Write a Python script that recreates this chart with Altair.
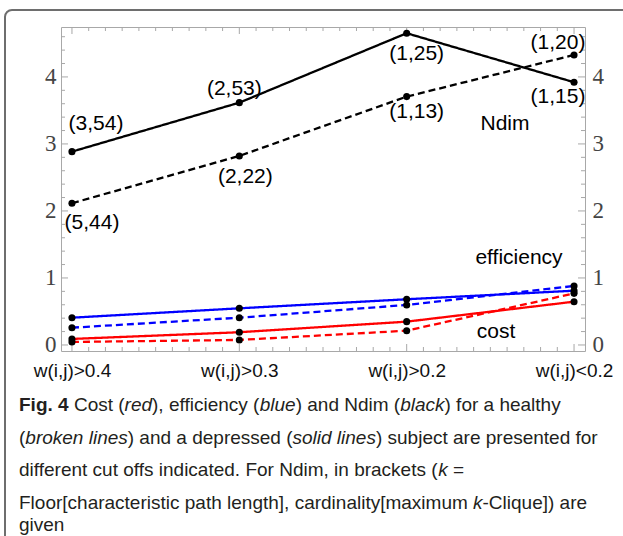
import json
import altair as alt
import pandas as pd

# ---------------- data ----------------
cutoffs = ["w(i,j)>0.4", "w(i,j)>0.3", "w(i,j)>0.2", "w(i,j)<0.2"]
ndim_depressed = [2.885, 3.616, 4.652, 3.921]
ndim_healthy = [2.115, 2.821, 3.706, 4.328]
eff_depressed = [0.407, 0.547, 0.682, 0.810]
eff_healthy = [0.258, 0.407, 0.597, 0.880]
cost_depressed = [0.090, 0.190, 0.348, 0.646]
cost_healthy = [0.045, 0.075, 0.213, 0.770]
ndim_labels_depressed = ["(3,54)", "(2,53)", "(1,25)", "(1,15)"]
ndim_labels_healthy = ["(5,44)", "(2,22)", "(1,13)", "(1,20)"]
y_tick_values = [0, 1, 2, 3, 4]

caption_lines = [
    [("Fig. 4", "bold"), (" Cost (", "normal"), ("red", "italic"), ("), efficiency (", "normal"),
     ("blue", "italic"), (") and Ndim (", "normal"), ("black", "italic"), (") for a healthy", "normal")],
    [("(", "normal"), ("broken lines", "italic"), (") and a depressed (", "normal"),
     ("solid lines", "italic"), (") subject are presented for", "normal")],
    [("different cut offs indicated. For Ndim, in brackets (", "normal"), ("k", "italic"), (" =", "normal")],
    [("Floor[characteristic path length], cardinality[maximum ", "normal"), ("k", "italic"),
     ("-Clique]) are", "normal")],
    [("given", "normal")],
]

# ---------------- layout ----------------
W, H = 524, 324
PAD = {"left": 61, "top": 27, "right": 38, "bottom": 185}
XDOM = [-0.0655, 3.0655]
YDOM = [-0.09, 4.745]
FRAME = "#a8a8a8"

rows = []
series = [
    ("Ndim", "depressed", ndim_depressed, ndim_labels_depressed),
    ("Ndim", "healthy", ndim_healthy, ndim_labels_healthy),
    ("efficiency", "depressed", eff_depressed, [""] * 4),
    ("efficiency", "healthy", eff_healthy, [""] * 4),
    ("cost", "depressed", cost_depressed, [""] * 4),
    ("cost", "healthy", cost_healthy, [""] * 4),
]
for metric, subject, vals, labs in series:
    for i, (v, lab) in enumerate(zip(vals, labs)):
        rows.append({"idx": i, "cutoff": cutoffs[i], "metric": metric, "subject": subject,
                     "series": metric + "_" + subject, "value": v, "label": lab})
df = pd.DataFrame(rows)

xscale = alt.Scale(domain=XDOM, nice=False, zero=False)
yscale = alt.Scale(domain=YDOM, nice=False, zero=False)

label_expr = json.dumps(cutoffs) + "[datum.value]"

yaxis_common = dict(values=y_tick_values, title=None, grid=False, domain=False, ticks=False,
                    labelFont="Liberation Serif", labelFontSize=23, labelColor="#444444")

lines = alt.Chart(df).mark_line(strokeWidth=2.3).encode(
    x=alt.X("idx:Q", scale=xscale,
            axis=alt.Axis(values=[0, 1, 2, 3], labelExpr=label_expr, title=None, grid=False,
                          domain=False, ticks=False, labelFont="Liberation Sans", labelFontSize=19,
                          labelColor="#111111", labelPadding=10)),
    y=alt.Y("value:Q", scale=yscale, axis=alt.Axis(orient="left", labelPadding=5, **yaxis_common)),
    color=alt.Color("metric:N", scale=alt.Scale(domain=["cost", "efficiency", "Ndim"],
                                                range=["#ff0000", "#0000ff", "#000000"]), legend=None),
    strokeDash=alt.StrokeDash("subject:N", scale=alt.Scale(domain=["depressed", "healthy"],
                                                           range=[[1, 0], [7, 4]]), legend=None),
    detail="series:N",
)

points = alt.Chart(df).mark_circle(size=50, color="black", opacity=1).encode(
    x=alt.X("idx:Q", scale=xscale, axis=None),
    y=alt.Y("value:Q", scale=yscale, axis=alt.Axis(orient="right", labelPadding=7, **yaxis_common)),
)

# point labels
label_offsets = {
    "(3,54)": (24, -28), "(2,53)": (-5, -14), "(1,25)": (10, 21), "(1,15)": (-16, 15),
    "(5,44)": (20, 20), "(2,22)": (6, 21), "(1,13)": (10, 15), "(1,20)": (-16, -12),
}
label_layers = []
for lab in ndim_labels_depressed + ndim_labels_healthy:
    dx, dy = label_offsets[lab]
    label_layers.append(
        alt.Chart(df).transform_filter(alt.datum.label == lab).mark_text(
            dx=dx, dy=dy, font="Liberation Sans", fontSize=21, color="black",
            align="center", baseline="middle").encode(
            x=alt.X("idx:Q", scale=xscale, axis=None),
            y=alt.Y("value:Q", scale=yscale, axis=None),
            text="label:N")
    )

# series names
name_layers = []
for name, px, py in [("Ndim", 444, 103), ("efficiency", 458, 237), ("cost", 435, 311)]:
    name_layers.append(
        alt.Chart(pd.DataFrame({"t": [name]})).mark_text(
            font="Liberation Sans", fontSize=21, color="black", align="center",
            baseline="alphabetic").encode(text="t:N", x=alt.value(px), y=alt.value(py))
    )

# frame ticks (inward)
y_minor = [round(i * 0.2, 1) for i in range(24)]
x_minor = [round(i * 0.1, 1) for i in range(31)]
yt = pd.DataFrame({"v": y_minor, "major": [float(v).is_integer() for v in y_minor]})
xt = pd.DataFrame({"v": x_minor, "major": [float(v).is_integer() for v in x_minor]})
tick_layers = []
for major, ln in [(True, 7), (False, 4)]:
    ysub = yt[yt.major == major]
    xsub = xt[xt.major == major]
    tick_layers.append(alt.Chart(ysub).mark_rule(color=FRAME, strokeWidth=1).encode(
        y=alt.Y("v:Q", scale=yscale, axis=None), x=alt.value(0), x2=alt.value(ln)))
    tick_layers.append(alt.Chart(ysub).mark_rule(color=FRAME, strokeWidth=1).encode(
        y=alt.Y("v:Q", scale=yscale, axis=None), x=alt.value(W), x2=alt.value(W - ln)))
    tick_layers.append(alt.Chart(xsub).mark_rule(color=FRAME, strokeWidth=1).encode(
        x=alt.X("v:Q", scale=xscale, axis=None), y=alt.value(H), y2=alt.value(H - ln)))
    tick_layers.append(alt.Chart(xsub).mark_rule(color=FRAME, strokeWidth=1).encode(
        x=alt.X("v:Q", scale=xscale, axis=None), y=alt.value(0), y2=alt.value(ln)))

# outer rounded border
border = alt.Chart(pd.DataFrame({"a": [0]})).mark_rect(
    fillOpacity=0, stroke="#6e6e6e", strokeWidth=2, cornerRadius=7).encode(
    x=alt.value(5 - PAD["left"]), y=alt.value(10 - PAD["top"]),
    x2=alt.value(700), y2=alt.value(700))

# caption with mixed styles (Arial/Helvetica advance widths)
REG = {' ': 278, '(': 333, ')': 333, ',': 278, '-': 333, '.': 278, '=': 584, '[': 278, ']': 278,
       '>': 584, '<': 584}
for c in "0123456789":
    REG[c] = 556
lw = dict(a=556, b=556, c=500, d=556, e=556, f=278, g=556, h=556, i=222, j=222, k=500, l=222, m=833,
          n=556, o=556, p=556, q=556, r=333, s=500, t=278, u=556, v=500, w=722, x=500, y=500, z=500)
uw = dict(A=667, B=667, C=722, D=722, E=667, F=611, G=778, H=722, I=278, J=500, K=667, L=556, M=833,
          N=722, O=778, P=667, Q=778, R=722, S=667, T=611, U=722, V=667, W=944, X=667, Y=667, Z=611)
REG.update(lw)
REG.update(uw)
BOLD = dict(REG)
BOLD.update({'i': 278, 'g': 611, 'F': 611, '.': 278, ' ': 278})

CAP_FS = 19
CAP_X0 = 19 - PAD["left"]
CAP_BASELINES = [411, 443.5, 476, 508.5, 531]


def seg_width(text, style):
    table = BOLD if style == "bold" else REG
    return sum(table.get(ch, 556) for ch in text) * CAP_FS / 1000.0


cap_rows = []
for li, segs in enumerate(caption_lines):
    xpos = CAP_X0
    for text, style in segs:
        stripped = text.lstrip(" ")
        lead = seg_width(text[: len(text) - len(stripped)], style)
        cap_rows.append({"t": stripped, "x": xpos + lead, "y": CAP_BASELINES[li] - PAD["top"],
                         "style": style})
        xpos += seg_width(text, style)
cap = pd.DataFrame(cap_rows)

caption_layers = []
for style in ["normal", "italic", "bold"]:
    sub = cap[cap["style"] == style]
    kw = dict(font="Liberation Sans", fontSize=CAP_FS, color="#231f20", align="left",
              baseline="alphabetic")
    if style == "italic":
        kw["fontStyle"] = "italic"
    if style == "bold":
        kw["fontWeight"] = "bold"
    caption_layers.append(alt.Chart(sub).mark_text(**kw).encode(
        text="t:N",
        x=alt.X("x:Q", scale=None, axis=None),
        y=alt.Y("y:Q", scale=None, axis=None)))

chart = alt.layer(
    lines, border, *tick_layers, points, *label_layers, *name_layers, *caption_layers
).resolve_axis(x="independent", y="independent").properties(
    width=W, height=H,
    autosize=alt.AutoSizeParams(type="none"),
    padding=PAD,
    background="white",
).configure_view(stroke=FRAME, strokeWidth=1)

chart.save("out.html", embed_options={"renderer": "svg", "actions": False})
